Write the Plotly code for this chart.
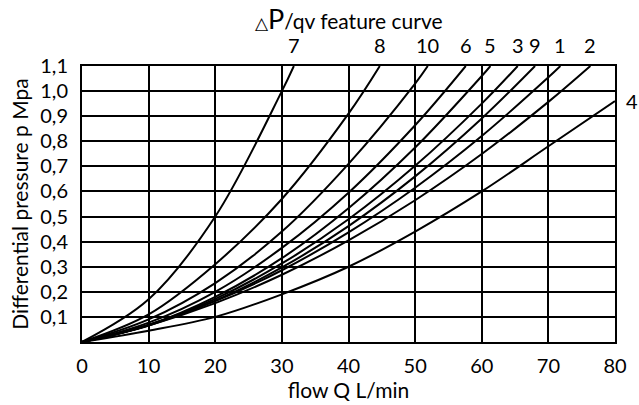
import plotly.graph_objects as go

# Axis ticks
flow_ticks = [0, 10, 20, 30, 40, 50, 60, 70, 80]
pressure_ticks = [0.1, 0.2, 0.3, 0.4, 0.5, 0.6, 0.7, 0.8, 0.9, 1.0, 1.1]
pressure_labels = ["0,1", "0,2", "0,3", "0,4", "0,5", "0,6", "0,7", "0,8", "0,9", "1,0", "1,1"]

# Feature curves: flow Q (L/min) vs differential pressure p (MPa)
q7 = [0, 10, 20, 30, 31.8]
p7 = [0, 0.17, 0.50, 1.00, 1.10]

q8 = [0, 10, 20, 30, 40, 44.7]
p8 = [0, 0.11, 0.31, 0.57, 0.91, 1.10]

q10 = [0, 10, 20, 30, 40, 50, 51.9]
p10 = [0, 0.09, 0.235, 0.44, 0.71, 1.03, 1.10]

q6 = [0, 10, 20, 30, 40, 50, 57.6]
p6 = [0, 0.077, 0.20, 0.375, 0.595, 0.864, 1.10]

q5 = [0, 10, 20, 30, 40, 50, 60, 61.3]
p5 = [0, 0.068, 0.18, 0.334, 0.533, 0.775, 1.06, 1.10]

q3 = [0, 10, 20, 30, 40, 50, 60, 65.4]
p3 = [0, 0.068, 0.172, 0.313, 0.489, 0.702, 0.95, 1.10]

q9 = [0, 10, 20, 30, 40, 50, 60, 68.0]
p9 = [0, 0.066, 0.165, 0.297, 0.462, 0.66, 0.891, 1.10]

q1 = [0, 10, 20, 30, 40, 50, 60, 70, 71.8]
p1 = [0, 0.068, 0.163, 0.286, 0.437, 0.615, 0.821, 1.055, 1.10]

q2 = [0, 10, 20, 30, 40, 50, 60, 70, 76.3]
p2 = [0, 0.066, 0.155, 0.268, 0.405, 0.565, 0.749, 0.957, 1.10]

q4 = [0, 10, 20, 30, 40, 50, 60, 70, 80]
p4 = [0, 0.045, 0.10, 0.19, 0.30, 0.44, 0.60, 0.78, 0.96]

curves = [
    ("7", q7, p7), ("8", q8, p8), ("10", q10, p10), ("6", q6, p6),
    ("5", q5, p5), ("3", q3, p3), ("9", q9, p9), ("1", q1, p1),
    ("2", q2, p2), ("4", q4, p4),
]

FONT = "Lato"
TXT = 20

fig = go.Figure()
annotations = []
for name, q, p in curves:
    fig.add_trace(go.Scatter(
        x=q, y=p, mode="lines", name=name,
        line=dict(color="black", width=2, shape="spline", smoothing=1.0),
        showlegend=False, hoverinfo="skip", cliponaxis=True,
    ))
    if name == "4":
        annotations.append(dict(x=q[-1], y=p[-1], text=name, showarrow=False,
                                xanchor="left", yanchor="middle", xshift=9,
                                font=dict(family=FONT, size=TXT, color="black")))
    else:
        annotations.append(dict(x=q[-1], y=p[-1], text=name, showarrow=False,
                                xanchor="center", yanchor="bottom", yshift=7,
                                font=dict(family=FONT, size=TXT, color="black")))

annotations.append(dict(
    x=0.5, xref="paper", y=1.171, yref="paper", yanchor="middle",
    showarrow=False,
    text="<span style='font-size:17px'>△</span><span style='font-size:27px'>P</span>/qv feature curve",
    font=dict(family=FONT, size=21, color="black"),
))

fig.update_layout(
    width=639, height=405,
    margin=dict(l=82, r=21, t=66, b=59),
    paper_bgcolor="white", plot_bgcolor="white",
    font=dict(family=FONT, size=TXT, color="black"),
    annotations=annotations,
)
fig.update_xaxes(
    range=[0, 80], tickvals=flow_ticks, ticktext=[str(v) for v in flow_ticks],
    showgrid=True, gridcolor="black", gridwidth=1.5,
    showline=True, linecolor="black", linewidth=2, mirror=True,
    zeroline=False, ticks="", ticklabelstandoff=5,
    title=dict(text="flow Q L/min", font=dict(family=FONT, size=21), standoff=1),
    tickfont=dict(family=FONT, size=TXT),
)
fig.update_yaxes(
    range=[0, 1.1], tickvals=pressure_ticks, ticktext=pressure_labels,
    showgrid=True, gridcolor="black", gridwidth=1.5,
    showline=True, linecolor="black", linewidth=2, mirror=True,
    zeroline=False, ticks="", ticklabelstandoff=8,
    title=dict(text="Differential pressure p Mpa", font=dict(family=FONT, size=21), standoff=6),
    tickfont=dict(family=FONT, size=TXT),
)

fig.write_html("out.html")
